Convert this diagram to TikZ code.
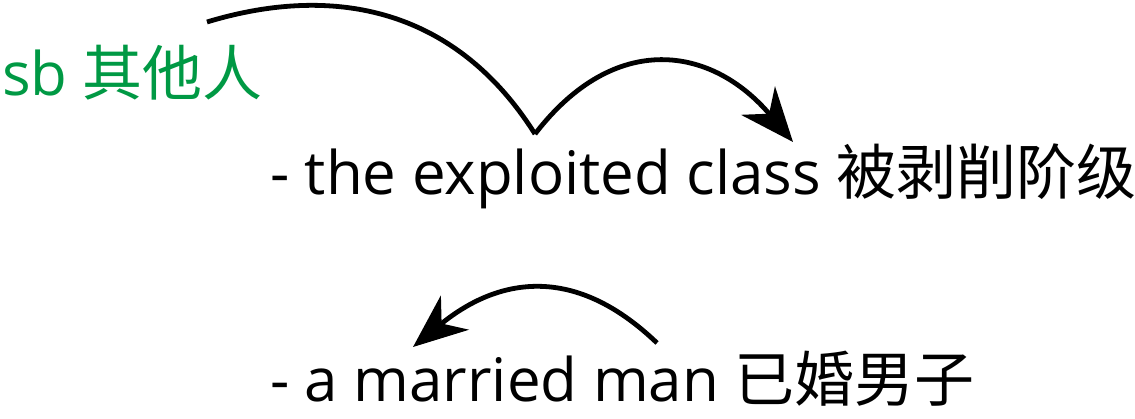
\documentclass[tikz,border=0pt]{standalone}
\usepackage{fontspec}
\setmainfont{Open Sans}
\newfontfamily\cjk{Noto Sans CJK SC}
\usetikzlibrary{arrows.meta}
\definecolor{sbgreen}{RGB}{0,153,68}
\tikzset{
  lbl/.style={inner sep=0pt, outer sep=0pt, font=\fontsize{60}{64}\selectfont, anchor=base west},
  arr/.style={line width=4.8pt, -{Stealth[length=54pt,width=44pt,inset=17pt]}},
  plain/.style={line width=4.8pt}
}
\begin{document}
\begin{tikzpicture}[x=1pt,y=-1pt]
\useasboundingbox (0,0) rectangle (1135,419);
\node[lbl, text=sbgreen] (sb) at (2,96) {sb {\cjk 其他人}};
\node[lbl] (t1) at (270,195) {- the exploited class {\cjk 被剥削阶级}};
\node[lbl] (t2) at (270,401) {- a married man {\cjk 已婚男子}};
\coordinate (a1) at (207,22);
\coordinate (a2) at (535,134);
\coordinate (a3) at (793,142);
\coordinate (b1) at (657,343);
\coordinate (b2) at (413,347);
\draw[plain] (a1) .. controls (339,-18) and (458,12) .. (a2);
\draw[arr] (a2) .. controls (615,30) and (712,46) .. (a3);
\draw[arr] (b1) .. controls (560,250) and (480,292) .. (b2);
\end{tikzpicture}
\end{document}
